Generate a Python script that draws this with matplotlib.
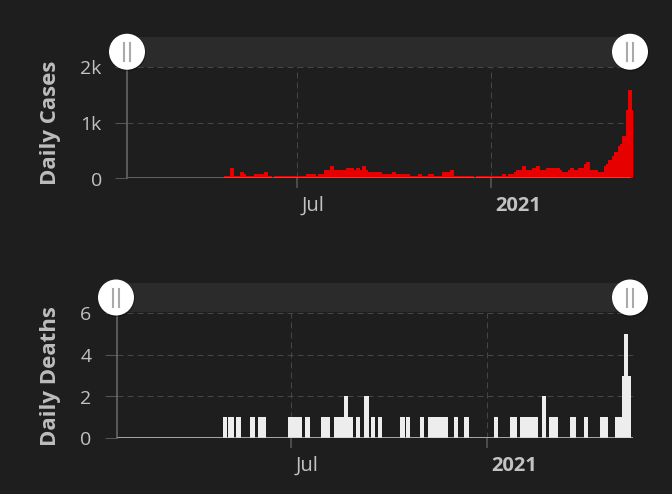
import matplotlib
matplotlib.use("Agg")
import matplotlib.pyplot as plt
import matplotlib.dates as mdates
import matplotlib.transforms as mtransforms
from matplotlib.patches import Circle, Rectangle
from matplotlib.lines import Line2D
import numpy as np
import datetime as dt

plt.rcParams["font.family"] = ["Open Sans", "DejaVu Sans"]

# data start date, segments are (offset in days, length in days, value)
start_date = dt.date(2020, 1, 22)

cases_start = [92, 98, 101.5, 107, 111, 113, 120.5, 130, 134, 139.5, 170, 179, 181, 187,
               192.5, 196.5, 208, 215.5, 217, 221, 223, 227, 229, 242, 251.5, 255, 268.5,
               276, 280, 285.5, 291, 299, 306.5, 310, 331, 356, 359.5, 361.5, 367, 369, 375,
               378.5, 384, 388, 392, 397.5, 411, 412.5, 418.5, 420.5, 424, 428, 433.5, 435.5,
               439, 447, 452.5, 454.5, 456.5, 460.5, 462, 466, 468, 469.5, 473.5, 475.5, 479]
cases_len = [6, 3.5, 5.5, 4, 2, 7.5, 9.5, 4, 3.5, 30.5, 9, 2, 6, 5.5,
             4, 11.5, 7.5, 1.5, 4, 2, 4, 2, 13, 9.5, 3.5, 13.5, 7.5,
             4, 5.5, 5.5, 8, 7.5, 3.5, 19, 25, 3.5, 2, 5.5, 2, 6, 3.5,
             5.5, 4, 4, 5.5, 13.5, 1.5, 6, 2, 3.5, 4, 5.5, 2, 3.5,
             8, 5.5, 2, 2, 4, 1.5, 4, 2, 1.5, 4, 2, 3.5, 1.5]
cases_val = [40, 180, 40, 120, 80, 40, 80, 120, 40, 40, 80, 40, 80, 150,
             220, 150, 185, 150, 185, 150, 220, 150, 115, 80, 115, 80, 40,
             80, 40, 80, 40, 115, 150, 40, 40, 80, 40, 80, 115, 150, 220,
             150, 185, 220, 150, 185, 150, 115, 150, 185, 150, 185, 257, 292,
             150, 115, 220, 257, 328, 400, 472, 580, 616, 760, 1230, 1585, 1230]

deaths_start = [97, 102, 110, 123, 130, 158, 174, 189, 202, 211, 215, 222, 230, 236, 243,
                264, 269, 282, 290, 314, 324, 352, 367, 376, 397, 403, 423, 436, 451, 465,
                472, 474, 478]
deaths_len = [4, 6, 4, 4, 8, 14, 5, 9, 9, 4, 4, 4, 4, 4, 4,
              4, 4, 4, 19, 4, 4, 4, 6, 17, 4, 9, 6, 4, 8, 7,
              2, 4, 2]
deaths_val = [1, 1, 1, 1, 1, 1, 1, 1, 1, 2, 1, 1, 2, 1, 1,
              1, 1, 1, 1, 1, 1, 1, 1, 1, 2, 1, 1, 1, 1, 1,
              3, 5, 3]

cases_ticks = [0, 1000, 2000]
cases_labels = ["0", "1k", "2k"]
deaths_ticks = [0, 2, 4, 6]
date_ticks = [dt.date(2020, 7, 1), dt.date(2021, 1, 1)]
date_labels = ["Jul", "2021"]

bg = "#1e1e1e"
W, H = 672, 494
fig = plt.figure(figsize=(W / 100, H / 100), dpi=100, facecolor=bg)
ident = mtransforms.IdentityTransform()


def px_axes(l, t, r, b):
    return fig.add_axes([l / W, 1 - b / H, (r - l) / W, (b - t) / H])


x0 = mdates.date2num(start_date)


def style(ax, ylabel, lab_x):
    ax.set_facecolor(bg)
    for s in ["top", "right", "bottom"]:
        ax.spines[s].set_visible(False)
    ax.spines["left"].set_color("#666666")
    ax.spines["left"].set_linewidth(1.2)
    ax.grid(True, color="#454545", ls=(0, (5.8, 3.8)), lw=0.75, zorder=0)
    ax.set_axisbelow(True)
    ax.tick_params(axis="y", length=8.6, width=0.75, color="#555555",
                   labelcolor="#c2c2c2", labelsize=14, pad=9.5)
    ax.tick_params(axis="x", length=7.2, width=1.2, color="#555555",
                   labelcolor="#c2c2c2", labelsize=14.5, pad=5.5)
    ax.set_xticks([mdates.date2num(d) for d in date_ticks])
    ax.set_xticklabels(date_labels)
    off = mtransforms.ScaledTranslation(5 / 100, 0, fig.dpi_scale_trans)
    for i, lbl in enumerate(ax.get_xticklabels()):
        lbl.set_horizontalalignment("left")
        lbl.set_transform(lbl.get_transform() + off)
        if i == 1:
            lbl.set_fontweight("bold")
    ax.set_ylabel(ylabel, fontsize=16, fontweight="bold", color="#bdbdbd")
    ax.yaxis.set_label_coords(lab_x, 0.5)


# cases
ax1 = px_axes(127, 67.1, 633, 178.5)
ax1.bar(x0 + np.array(cases_start), cases_val, width=cases_len, align="edge",
        color="#e60000", linewidth=0, zorder=2)
ax1.plot([x0, x0 + 477], [0, 0], color="#d85050", lw=1.8, zorder=3, solid_capstyle="butt")
ax1.set_xlim(x0, x0 + 480)
ax1.set_ylim(0, 2000)
ax1.set_yticks(cases_ticks)
ax1.set_yticklabels(cases_labels)
style(ax1, "Daily Cases", -0.130)

# deaths
ax2 = px_axes(116.7, 312.9, 633, 438.3)
ax2.bar(x0 + np.array(deaths_start), deaths_val, width=deaths_len, align="edge",
        color="#ededed", linewidth=0, zorder=2)
ax2.plot([x0 - 2.4, x0 + 482], [0, 0], color="#d0d0d0", lw=1.8, zorder=3, solid_capstyle="butt")
ax2.set_xlim(x0 - 2.4, x0 + 482.3)
ax2.set_ylim(0, 6)
ax2.set_yticks(deaths_ticks)
style(ax2, "Daily Deaths", -0.108)


def slider(top, bot, left, right, handles):
    fig.add_artist(Rectangle((left, H - bot), right - left, bot - top, transform=ident,
                             facecolor="#2b2b2b", edgecolor="none", zorder=5))
    cy = H - (top + bot) / 2
    for cx in handles:
        fig.add_artist(Circle((cx + 0.5, cy - 1), 18.5, transform=ident,
                              facecolor="#000000", alpha=0.35, edgecolor="none", zorder=6))
        fig.add_artist(Circle((cx, cy), 18, transform=ident,
                              facecolor="#ffffff", edgecolor="none", zorder=7))
        for dx in (-2.7, 2.7):
            fig.add_artist(Line2D([cx + dx, cx + dx], [cy - 9, cy + 9], transform=ident,
                                  color="#aaaaaa", lw=1.5, zorder=8))


slider(37, 66.5, 127, 640, [127, 630])
slider(283, 312, 116, 640, [116, 630])

fig.savefig("out.png", dpi=100, facecolor=bg)
